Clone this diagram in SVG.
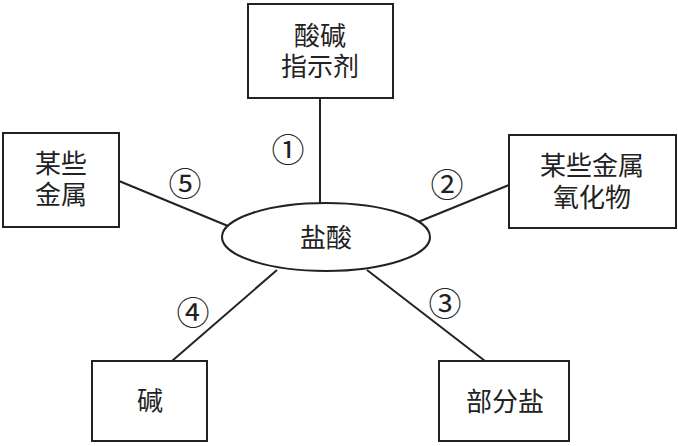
<svg xmlns="http://www.w3.org/2000/svg" width="678" height="446" viewBox="0 0 678 446">
<style>
.box{fill:#fff;stroke:#222;stroke-width:2}
.ln{stroke:#222;stroke-width:2;fill:none}
.t{font-family:"Liberation Sans","Noto Sans CJK SC",sans-serif;font-size:26px;fill:#222;text-anchor:middle;dominant-baseline:central}
.n{font-family:"Noto Sans CJK SC","DejaVu Sans",sans-serif;font-size:33px;fill:#222;text-anchor:middle;dominant-baseline:central}
</style>
<rect width="678" height="446" fill="#fff"/>
<g id="connectors">
<line class="ln" x1="320" y1="98" x2="320" y2="204"/>
<line class="ln" x1="119" y1="181" x2="228" y2="226"/>
<line class="ln" x1="509" y1="185" x2="418" y2="222"/>
<line class="ln" x1="172" y1="361" x2="277" y2="270"/>
<line class="ln" x1="485" y1="361" x2="367" y2="270"/>
<text class="n" x="288" y="148">①</text>
<text class="n" x="447" y="183">②</text>
<text class="n" x="445" y="302">③</text>
<text class="n" x="193" y="311">④</text>
<text class="n" x="185" y="182">⑤</text>
</g>
<g id="center">
<ellipse class="box" cx="326" cy="237" rx="104" ry="34"/>
<text class="t" x="326" y="238">盐酸</text>
</g>
<g id="indicator">
<rect class="box" x="248" y="4" width="145" height="94"/>
<text class="t" x="320" y="36">酸碱</text>
<text class="t" x="320" y="67">指示剂</text>
</g>
<g id="metal">
<rect class="box" x="3" y="133" width="116" height="94"/>
<text class="t" x="61" y="164">某些</text>
<text class="t" x="61" y="195">金属</text>
</g>
<g id="oxide">
<rect class="box" x="509" y="135" width="167" height="93"/>
<text class="t" x="592" y="166">某些金属</text>
<text class="t" x="592" y="198">氧化物</text>
</g>
<g id="base">
<rect class="box" x="92" y="361" width="115" height="80"/>
<text class="t" x="150" y="401">碱</text>
</g>
<g id="salt">
<rect class="box" x="439" y="361" width="130" height="80"/>
<text class="t" x="505" y="402">部分盐</text>
</g>
</svg>
